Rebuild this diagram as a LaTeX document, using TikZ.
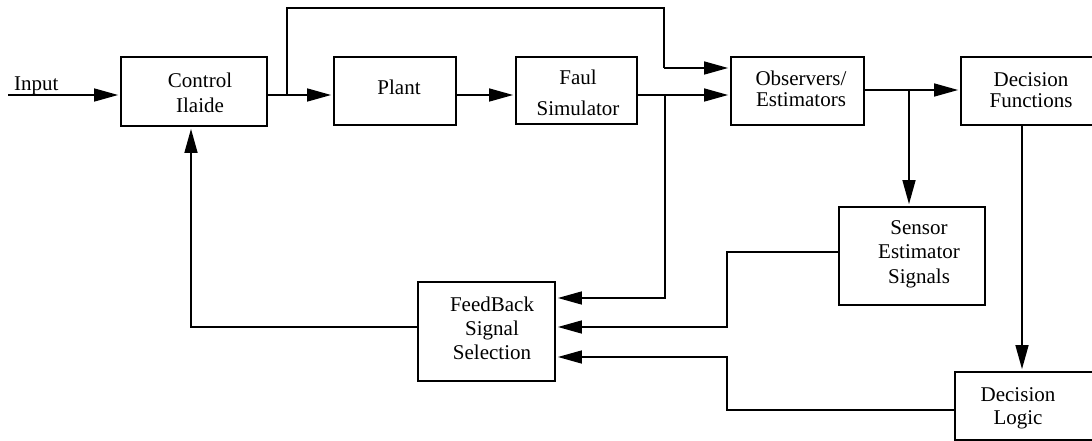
\documentclass[tikz,border=0pt]{standalone}
\usepackage{fontspec}
\setmainfont{Liberation Serif}
\usetikzlibrary{arrows.meta}
\tikzset{
  blk/.style={draw, line width=1.8pt, inner sep=0pt, anchor=center},
  txt/.style={inner sep=0pt, align=center, anchor=center},
  ln/.style={line width=1.5pt},
  arr/.style={line width=1.5pt, -{Triangle[length=24pt,width=13pt]}, shorten >=2pt},
}
\newcommand{\fs}[1]{\fontsize{21}{#1}\selectfont}
\begin{document}
\begin{tikzpicture}[x=1pt,y=-1pt]
\useasboundingbox (0,0) rectangle (1092,441);
\clip (0,0) rectangle (1092,441);
% boxes
\node[blk, minimum width=146pt, minimum height=69pt] (ctrl) at (194,91.5) {};
\node[blk, minimum width=122pt, minimum height=68pt] (plant) at (395,91) {};
\node[blk, minimum width=121pt, minimum height=67pt] (fault) at (576.5,90.5) {};
\node[blk, minimum width=133pt, minimum height=68pt] (obs) at (797.5,91) {};
\node[blk, minimum width=140pt, minimum height=68pt] (decf) at (1031,91) {};
\node[blk, minimum width=146pt, minimum height=98pt] (sens) at (912,256) {};
\node[blk, minimum width=137pt, minimum height=99pt] (fb) at (486.5,331.5) {};
\node[blk, minimum width=145pt, minimum height=68pt] (decl) at (1027.5,406) {};
% texts
\node[txt, font=\fs{25}] (ctrlT) at (200,92.5) {Control\\Ilaide};
\node[txt, font=\fs{24}] (plantT) at (399,87) {Plant};
\node[txt, font=\fs{31}] (faultT) at (578,92.5) {Faul\\Simulator};
\node[txt, font=\fs{21}] (obsT) at (801,89) {Observers/\\Estimators};
\node[txt, font=\fs{21}] (decfT) at (1031,90) {Decision\\Functions};
\node[txt, font=\fs{24.5}] (sensT) at (919,254) {Sensor\\Estimator\\Signals};
\node[txt, font=\fs{24}] (fbT) at (492,328) {FeedBack\\Signal\\Selection};
\node[txt, font=\fs{23}] (declT) at (1018,408) {Decision\\Logic};
\node[inner sep=0pt, anchor=base west, font=\fs{24}] (inT) at (14,91) {Input};
% coordinates
\coordinate (inL) at (8,95);
\coordinate (j1) at (287,95);
\coordinate (t1) at (287,8);
\coordinate (t2) at (664,8);
\coordinate (t3) at (664,68);
\coordinate (j2) at (665,95);
\coordinate (d2) at (665,298);
\coordinate (j3) at (909,90);
\coordinate (k1) at (1022,0);
\coordinate (s1) at (727,252);
\coordinate (s2) at (727,327);
\coordinate (l1) at (727,410);
\coordinate (l2) at (727,357);
\coordinate (f1) at (191,327);
% connectors
\draw[arr] (inL) -- (inL -| ctrl.west);
\draw[arr] (ctrl.east |- inL) -- (plant.west |- inL);
\draw[ln] (j1) -- (t1) -- (t2) -- (t3);
\draw[arr] (t3) -- (t3 -| obs.west);
\draw[arr] (plant.east |- inL) -- (fault.west |- inL);
\draw[arr] (fault.east |- inL) -- (obs.west |- inL);
\draw[arr] (j2) -- (d2) -- (d2 -| fb.east);
\draw[arr] (obs.east |- j3) -- (decf.west |- j3);
\draw[arr] (j3) -- (j3 |- sens.north);
\draw[arr] (decf.south -| k1) -- (decl.north -| k1);
\draw[arr] (sens.west |- s1) -- (s1) -- (s2) -- (s2 -| fb.east);
\draw[arr] (decl.west |- l1) -- (l1) -- (l2) -- (l2 -| fb.east);
\draw[arr] (fb.west |- f1) -- (f1) -- (f1 |- ctrl.south);
\end{tikzpicture}
\end{document}
